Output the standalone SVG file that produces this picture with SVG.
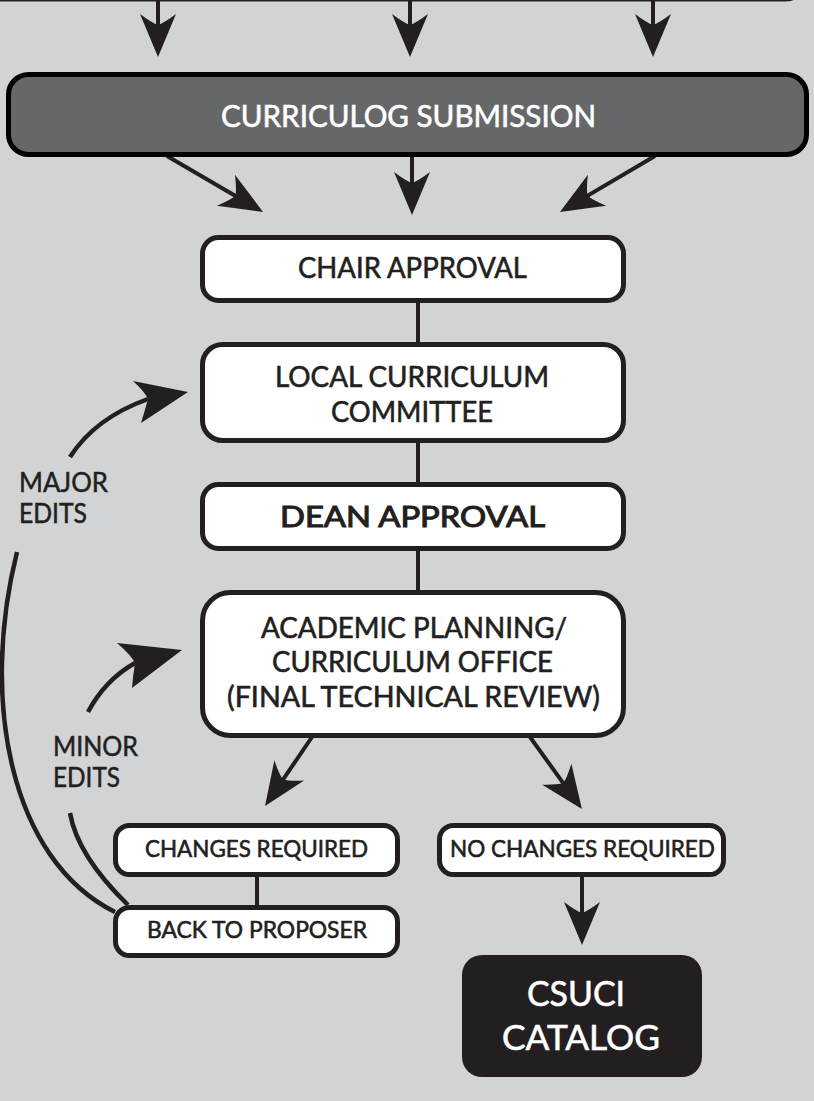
<svg xmlns="http://www.w3.org/2000/svg" width="814" height="1101" viewBox="0 0 814 1101">
<style>
.box{fill:#ffffff;stroke:#231f20;stroke-width:5}
.t{font-family:Lato,"Open Sans","Liberation Sans",sans-serif;fill:#231f20;stroke:#231f20;stroke-width:0.6;text-anchor:middle}
.tl{font-family:Lato,"Open Sans","Liberation Sans",sans-serif;fill:#231f20;stroke:#231f20;stroke-width:0.5}
.w{fill:#ffffff;stroke:#ffffff}
.ln{fill:none;stroke:#231f20;stroke-width:4}
.cv{fill:none;stroke:#231f20;stroke-width:4.5;stroke-linecap:butt}
.hd{fill:#231f20}
</style>
<defs>
<marker id="ah" markerUnits="userSpaceOnUse" orient="auto" refX="0" refY="0" markerWidth="60" markerHeight="60" overflow="visible">
<path d="M12,0 L-31,-18 Q-22,-6 -20,0 Q-22,6 -31,18 Z" fill="#231f20"/>
</marker>
</defs>
<rect x="0" y="0" width="814" height="1101" fill="#d1d3d4"/>

<g id="top-box-edge">
<path d="M-5,-0.5 H785 Q795,-0.5 797,-6" fill="none" stroke="#231f20" stroke-width="4"/>
</g>

<g id="connectors">
<line class="ln" x1="158" y1="-2" x2="158" y2="45" marker-end="url(#ah)"/>
<line class="ln" x1="410" y1="-2" x2="410" y2="45" marker-end="url(#ah)"/>
<line class="ln" x1="653" y1="-2" x2="653" y2="45" marker-end="url(#ah)"/>
<line class="ln" x1="167" y1="156" x2="252.7" y2="205.9" marker-end="url(#ah)"/>
<line class="ln" x1="412" y1="156" x2="412" y2="203" marker-end="url(#ah)"/>
<line class="ln" x1="655" y1="156" x2="570.3" y2="205.9" marker-end="url(#ah)"/>
<line class="ln" x1="418" y1="302" x2="418" y2="343"/>
<line class="ln" x1="418" y1="442" x2="418" y2="483"/>
<line class="ln" x1="418" y1="550" x2="418" y2="591"/>
<line class="ln" x1="312" y1="737" x2="271.8" y2="796.1" marker-end="url(#ah)"/>
<line class="ln" x1="530" y1="737" x2="574.9" y2="799.3" marker-end="url(#ah)"/>
<line class="ln" x1="257" y1="876" x2="257" y2="906"/>
<line class="ln" x1="582" y1="876" x2="582" y2="933" marker-end="url(#ah)"/>
<path class="cv" d="M70,457 Q95,418 148,399"/>
<path class="hd" d="M188,392 L133,381 Q145,392 148,399 Q145,410 141,423 Z"/>
<path class="cv" d="M88,712 Q105,680 135,663"/>
<path class="hd" d="M182,650 L117,643 Q131,655 135,663 Q133,675 132,688 Z"/>
<path class="cv" d="M17,552 C-20,700 10,860 115,912"/>
<path class="cv" d="M70,813 Q77.5,856 128,905"/>
</g>

<g id="curriculog-submission">
<rect x="8.5" y="74.5" width="798" height="80" rx="20" fill="#666769" stroke="#000000" stroke-width="5"/>
<text class="t w" x="408.5" y="127" font-size="30" textLength="375" lengthAdjust="spacingAndGlyphs">CURRICULOG SUBMISSION</text>
</g>

<g id="chair-approval">
<rect class="box" x="202.5" y="237.5" width="421" height="63" rx="16"/>
<text class="t" x="412.5" y="278" font-size="28" textLength="229" lengthAdjust="spacingAndGlyphs">CHAIR APPROVAL</text>
</g>

<g id="local-curriculum-committee">
<rect class="box" x="202.5" y="344.5" width="421" height="96" rx="20"/>
<text class="t" x="412" y="387" font-size="28" textLength="274" lengthAdjust="spacingAndGlyphs">LOCAL CURRICULUM</text>
<text class="t" x="412" y="422" font-size="28" textLength="162" lengthAdjust="spacingAndGlyphs">COMMITTEE</text>
</g>

<g id="dean-approval">
<rect class="box" x="202.5" y="484.5" width="421" height="64" rx="16"/>
<text class="t" x="412.5" y="527" font-size="29" style="stroke-width:1.1" textLength="265" lengthAdjust="spacingAndGlyphs">DEAN APPROVAL</text>
</g>

<g id="academic-planning">
<rect class="box" x="202.5" y="592.5" width="421" height="143" rx="28"/>
<text class="t" x="414" y="638" font-size="28" textLength="306" lengthAdjust="spacingAndGlyphs">ACADEMIC PLANNING/</text>
<text class="t" x="412.5" y="672" font-size="28" textLength="281" lengthAdjust="spacingAndGlyphs">CURRICULUM OFFICE</text>
<text class="t" x="413.5" y="707" font-size="28" textLength="373" lengthAdjust="spacingAndGlyphs">(FINAL TECHNICAL REVIEW)</text>
</g>

<g id="major-edits-label">
<text class="tl" x="19" y="492" font-size="26" textLength="89" lengthAdjust="spacingAndGlyphs">MAJOR</text>
<text class="tl" x="19" y="523" font-size="26" textLength="68" lengthAdjust="spacingAndGlyphs">EDITS</text>
</g>

<g id="minor-edits-label">
<text class="tl" x="53" y="756" font-size="26" textLength="85" lengthAdjust="spacingAndGlyphs">MINOR</text>
<text class="tl" x="53" y="787" font-size="26" textLength="67" lengthAdjust="spacingAndGlyphs">EDITS</text>
</g>

<g id="changes-required">
<rect class="box" x="115.5" y="825.5" width="282" height="49" rx="14"/>
<text class="t" x="256.5" y="857" font-size="23" textLength="223" lengthAdjust="spacingAndGlyphs">CHANGES REQUIRED</text>
</g>

<g id="back-to-proposer">
<rect class="box" x="115.5" y="907.5" width="282" height="48" rx="14"/>
<text class="t" x="257" y="938" font-size="23" textLength="220" lengthAdjust="spacingAndGlyphs">BACK TO PROPOSER</text>
</g>

<g id="no-changes-required">
<rect class="box" x="439.5" y="825.5" width="284" height="49" rx="14"/>
<text class="t" x="582.5" y="857" font-size="23" textLength="265" lengthAdjust="spacingAndGlyphs">NO CHANGES REQUIRED</text>
</g>

<g id="csuci-catalog">
<rect x="462" y="955" width="240" height="122" rx="20" fill="#231f20"/>
<text class="t w" x="576" y="1006" font-size="34" textLength="98" lengthAdjust="spacingAndGlyphs">CSUCI</text>
<text class="t w" x="581" y="1050" font-size="34" textLength="158" lengthAdjust="spacingAndGlyphs">CATALOG</text>
</g>
</svg>
